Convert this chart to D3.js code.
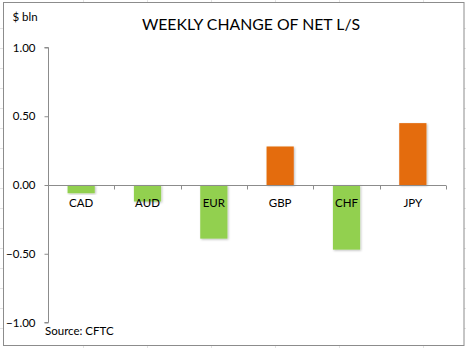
<!DOCTYPE html>
<html><head><meta charset="utf-8">
<script src="https://cdn.jsdelivr.net/npm/d3@7"></script>
<style>
html,body{margin:0;padding:0;background:#fff;}
svg{display:block;}
text{font-family:Lato,"Open Sans",sans-serif;}
</style></head>
<body>
<script>
const categories = ["CAD","AUD","EUR","GBP","CHF","JPY"];
const values = [-0.06,-0.12,-0.39,0.28,-0.47,0.45];
const yTicks = [1.00,0.50,0.00,-0.50,-1.00];
const title = "WEEKLY CHANGE OF NET L/S";
const unitLabel = "$ bln";
const source = "Source: CFTC";
const posColor = "#E46C0A", negColor = "#92D050";

const W = 466, H = 348;
const svg = d3.select("body").append("svg").attr("width", W).attr("height", H);

// faint spreadsheet grid outside the chart
const g0 = svg.append("g").attr("stroke","#e3e3e3").attr("stroke-width",1);
[83,147,211,275,339,423].forEach(x=>g0.append("line").attr("x1",x+0.5).attr("x2",x+0.5).attr("y1",0).attr("y2",3));
[83,147,211,275,339,423].forEach(x=>g0.append("line").attr("x1",x+0.5).attr("x2",x+0.5).attr("y1",346).attr("y2",348));
[28,48,68,88,108,128,148,168,188,208,228,248,268,288,308,328].forEach(y=>{
  g0.append("line").attr("x1",0).attr("x2",3).attr("y1",y+0.5).attr("y2",y+0.5);
  g0.append("line").attr("x1",464).attr("x2",466).attr("y1",y+0.5).attr("y2",y+0.5);
});

// chart border
svg.append("rect").attr("x",3.5).attr("y",2.5).attr("width",460.5).attr("height",343)
  .attr("fill","#fff").attr("stroke","#8c8c8c").attr("stroke-width",1);

const x = d3.scaleBand().domain(categories).range([48, 446]).paddingInner(0.59).paddingOuter(0.295);
const y = d3.scaleLinear().domain([-1, 1]).range([322.5, 47.5]);

// title
svg.append("text").attr("x", 251).attr("y", 30).attr("text-anchor","middle")
  .attr("font-size", 15.8).attr("fill","#000").text(title);
svg.append("text").attr("x", 12.5).attr("y", 21).attr("font-size", 11.5).attr("fill","#000").text(unitLabel);

// bars
svg.append("defs").append("filter").attr("id","sh").attr("x","-20%").attr("y","-20%").attr("width","140%").attr("height","140%")
  .append("feDropShadow").attr("dx",1).attr("dy",1).attr("stdDeviation",1).attr("flood-color","#000").attr("flood-opacity",0.25);
svg.append("g").selectAll("rect").data(values).join("rect")
  .attr("x",(d,i)=>x(categories[i]))
  .attr("width",x.bandwidth())
  .attr("y",d=>y(Math.max(0,d)))
  .attr("height",d=>Math.abs(y(d)-y(0)))
  .attr("fill",d=>d>=0?posColor:negColor)
  .attr("filter","url(#sh)");

// y axis
const ya = svg.append("g").attr("transform","translate(48.5,0)")
  .call(d3.axisLeft(y).tickValues(yTicks).tickFormat(d3.format(".2f")).tickSize(4).tickPadding(9));
ya.select(".domain").attr("stroke","#8c8c8c").attr("d","M-4,"+y(1)+"H0V"+y(-1)+"H-4");
ya.selectAll(".tick line").attr("stroke","#8c8c8c");
ya.selectAll(".tick text").attr("font-size",11.5).attr("fill","#000").attr("font-family","Lato,'Open Sans',sans-serif");

// x axis at zero
const xb = d3.scaleLinear().domain([0, categories.length]).range([48, 446]);
const xa = svg.append("g").attr("transform","translate(0,"+(Math.round(y(0))+0.5)+")");
xa.append("line").attr("x1",48).attr("x2",446).attr("stroke","#8c8c8c");
xa.selectAll(".tk").data(d3.range(1, categories.length+1)).join("line")
  .attr("x1",d=>Math.round(xb(d))+0.5).attr("x2",d=>Math.round(xb(d))+0.5).attr("y1",0).attr("y2",4).attr("stroke","#8c8c8c");
xa.selectAll(".lb").data(categories).join("text")
  .attr("x",d=>x(d)+x.bandwidth()/2).attr("y",21.5).attr("text-anchor","middle")
  .attr("font-size",11.5).attr("fill","#000").text(d=>d);

svg.append("text").attr("x",45).attr("y",335).attr("font-size",11.5).attr("fill","#000").text(source);
</script>
</body></html>
